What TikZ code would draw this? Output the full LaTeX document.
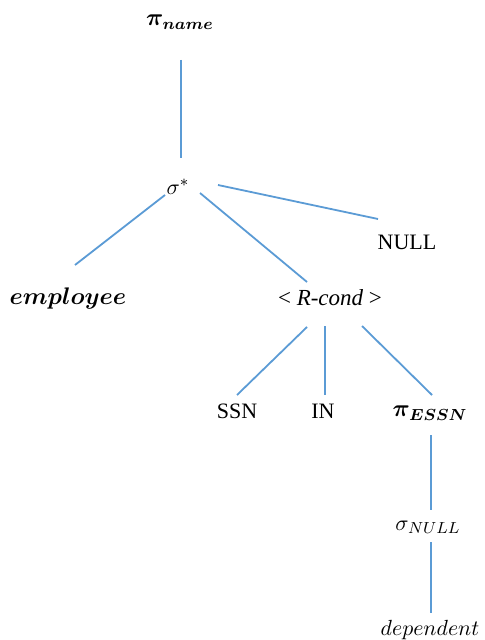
\documentclass[tikz,border=0pt]{standalone}
\usepackage{fontspec}
\setmainfont{Liberation Serif}
\usetikzlibrary{calc}

\begin{document}
\begin{tikzpicture}[
    x=0.5pt, y=-0.5pt,
    rama/.style={draw=rama, line width=0.9pt},
    hoja/.style={inner sep=1pt, font=\fontsize{11}{13}\selectfont},
    operador/.style={inner sep=1pt, font=\fontsize{11.5}{13}\selectfont\boldmath},
    relacion/.style={inner sep=1pt, font=\fontsize{12}{14}\selectfont\boldmath}
]
    \definecolor{rama}{RGB}{91,155,213}
    \useasboundingbox (0,0) rectangle (485,640);

    % NODOS DEL ARBOL
    \node[operador] (pn) at (180,22) {$\pi_{name}$};
    \node[hoja] (sg) at (178,187) {$\sigma^{*}$};
    \node[relacion] (emp) at (68,298) {$employee$};
    \node[hoja] (nul) at (407,242) {NULL};
    \node[hoja, font=\fontsize{11.5}{14}\selectfont] (rc) at (330,298) {<~\textit{R-cond}~>};
    \node[hoja] (ssn) at (237,411) {SSN};
    \node[hoja] (in) at (323,411) {IN};
    \node[operador] (pe) at (430,413) {$\pi_{ESSN}$};
    \node[hoja] (sn) at (428,527) {$\sigma_{NULL}$};
    \node[hoja] (dep) at (430,630) {$dependent$};

    % RAMAS
    \draw[rama] ($(pn)+(1,38)$) -- ($(sg)+(3,-29)$);
    \draw[rama] ($(sg)+(-13,8)$) -- ($(emp)+(7,-33)$);
    \draw[rama] ($(sg)+(22,6)$) -- ($(rc)+(-23,-16)$);
    \draw[rama] ($(sg)+(40,-2)$) -- ($(nul)+(-29,-23)$);

    \draw[rama] ($(rc)+(-23,29)$) -- ($(ssn)+(0,-16)$);
    \draw[rama] ($(rc)+(-5,28)$) -- ($(in)+(2,-16)$);
    \draw[rama] ($(rc)+(32,28)$) -- ($(pe)+(2,-18)$);

    \draw[rama] ($(pe)+(1,22)$) -- ($(sn)+(3,-17)$);
    \draw[rama] ($(sn)+(3,15)$) -- ($(dep)+(1,-17)$);

\end{tikzpicture}
\end{document}
